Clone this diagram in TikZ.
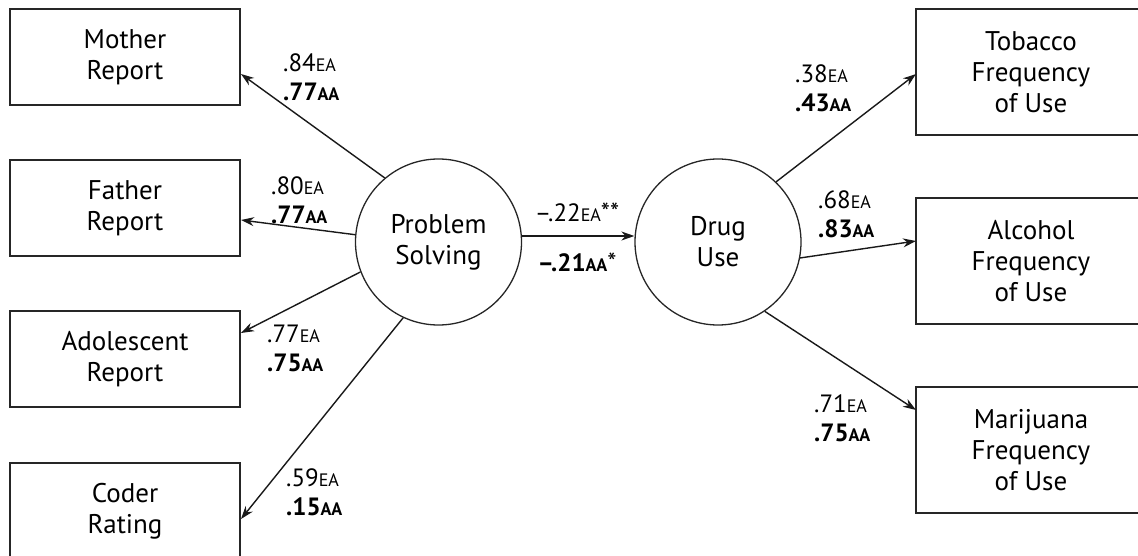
\documentclass[tikz,border=0pt]{standalone}
\usepackage{fontspec}
\setmainfont{PT Sans}
\usetikzlibrary{arrows.meta}

% small capitals used for the group tags (EA / AA)
\newcommand\grp[1]{{\fontsize{18}{18}\selectfont #1}}
\newcommand\sig[1]{{\fontsize{26}{26}\selectfont #1}}

\tikzset{
  measure/.style={draw=black!85, line width=1.4pt, minimum width=230pt,
    inner sep=0pt, align=center, font=\fontsize{27}{31}\selectfont},
  lbox/.style={measure, minimum height=96pt},
  rbox/.style={measure, minimum height=126pt},
  latent/.style={circle, draw=black!85, line width=1.3pt, minimum size=166pt,
    inner sep=0pt, align=center, font=\fontsize{27}{31}\selectfont},
  load/.style={line width=1.4pt, draw=black!90, -{Stealth[length=13pt,width=9pt]}},
  coef/.style={anchor=west, align=left, inner sep=0pt,
    font=\fontsize{25}{29}\selectfont},
  coefc/.style={anchor=center, inner sep=0pt, font=\fontsize{25}{29}\selectfont}
}

\begin{document}
\begin{tikzpicture}[x=1pt, y=-1pt]
  \useasboundingbox (0,0) rectangle (1138,556);
  \clip (0,0) rectangle (1138,556);

  % indicators of problem solving
  \node[lbox] (mother) at (125,57)  {Mother\\Report};
  \node[lbox] (father) at (125,208) {Father\\Report};
  \node[lbox] (adol)   at (125,359) {Adolescent\\Report};
  \node[lbox] (coder)  at (125,511) {Coder\\Rating};

  % indicators of drug use
  \node[rbox] (tob) at (1031,72)  {Tobacco\\Frequency\\of Use};
  \node[rbox] (alc) at (1031,261) {Alcohol\\Frequency\\of Use};
  \node[rbox] (mar) at (1031,450) {Marijuana\\Frequency\\of Use};

  % latent constructs
  \node[latent] (ps) at (438.5,242) {Problem\\Solving};
  \node[latent] (du) at (718,242)   {Drug\\Use};

  % coordinates where the loadings meet the boxes
  \coordinate (tMother) at (241,74);
  \coordinate (tFather) at (241,220);
  \coordinate (tAdol)   at (241,333);
  \coordinate (tCoder)  at (241,519);
  \coordinate (tTob)    at (916,74);
  \coordinate (tAlc)    at (916,241);
  \coordinate (tMar)    at (916,410);

  % loadings
  \draw[load] (ps.130.5) -- (tMother);
  \draw[load] (ps.175)   -- (tFather);
  \draw[load] (ps.201)   -- (tAdol);
  \draw[load] (ps.245.5) -- (tCoder);
  \draw[load] (du.46.5)  -- (tTob);
  \draw[load] (du.-11)   -- (tAlc);
  \draw[load] (du.-56)   -- (tMar);

  % structural path
  \draw[load] ([yshift=6pt]ps.east) -- ([yshift=6pt]du.west);

  % coefficients
  \node[coef] (cMother) at (283,77)  {.84\grp{EA}\\\textbf{.77\grp{AA}}};
  \node[coef] (cFather) at (271,200) {.80\grp{EA}\\\textbf{.77\grp{AA}}};
  \node[coef] (cAdol)   at (267,348) {.77\grp{EA}\\\textbf{.75\grp{AA}}};
  \node[coef] (cCoder)  at (286,492) {.59\grp{EA}\\\textbf{.15\grp{AA}}};
  \node[coef] (cTob)    at (795,88)  {.38\grp{EA}\\\textbf{.43\grp{AA}}};
  \node[coef] (cAlc)    at (818,214) {.68\grp{EA}\\\textbf{.83\grp{AA}}};
  \node[coef] (cMar)    at (814,418) {.71\grp{EA}\\\textbf{.75\grp{AA}}};
  \node[coefc] (cPathA) at (577,212) {–.22\grp{EA}\sig{**}};
  \node[coefc] (cPathB) at (577,262) {\textbf{–.21\grp{AA}}\sig{*}};
\end{tikzpicture}
\end{document}
